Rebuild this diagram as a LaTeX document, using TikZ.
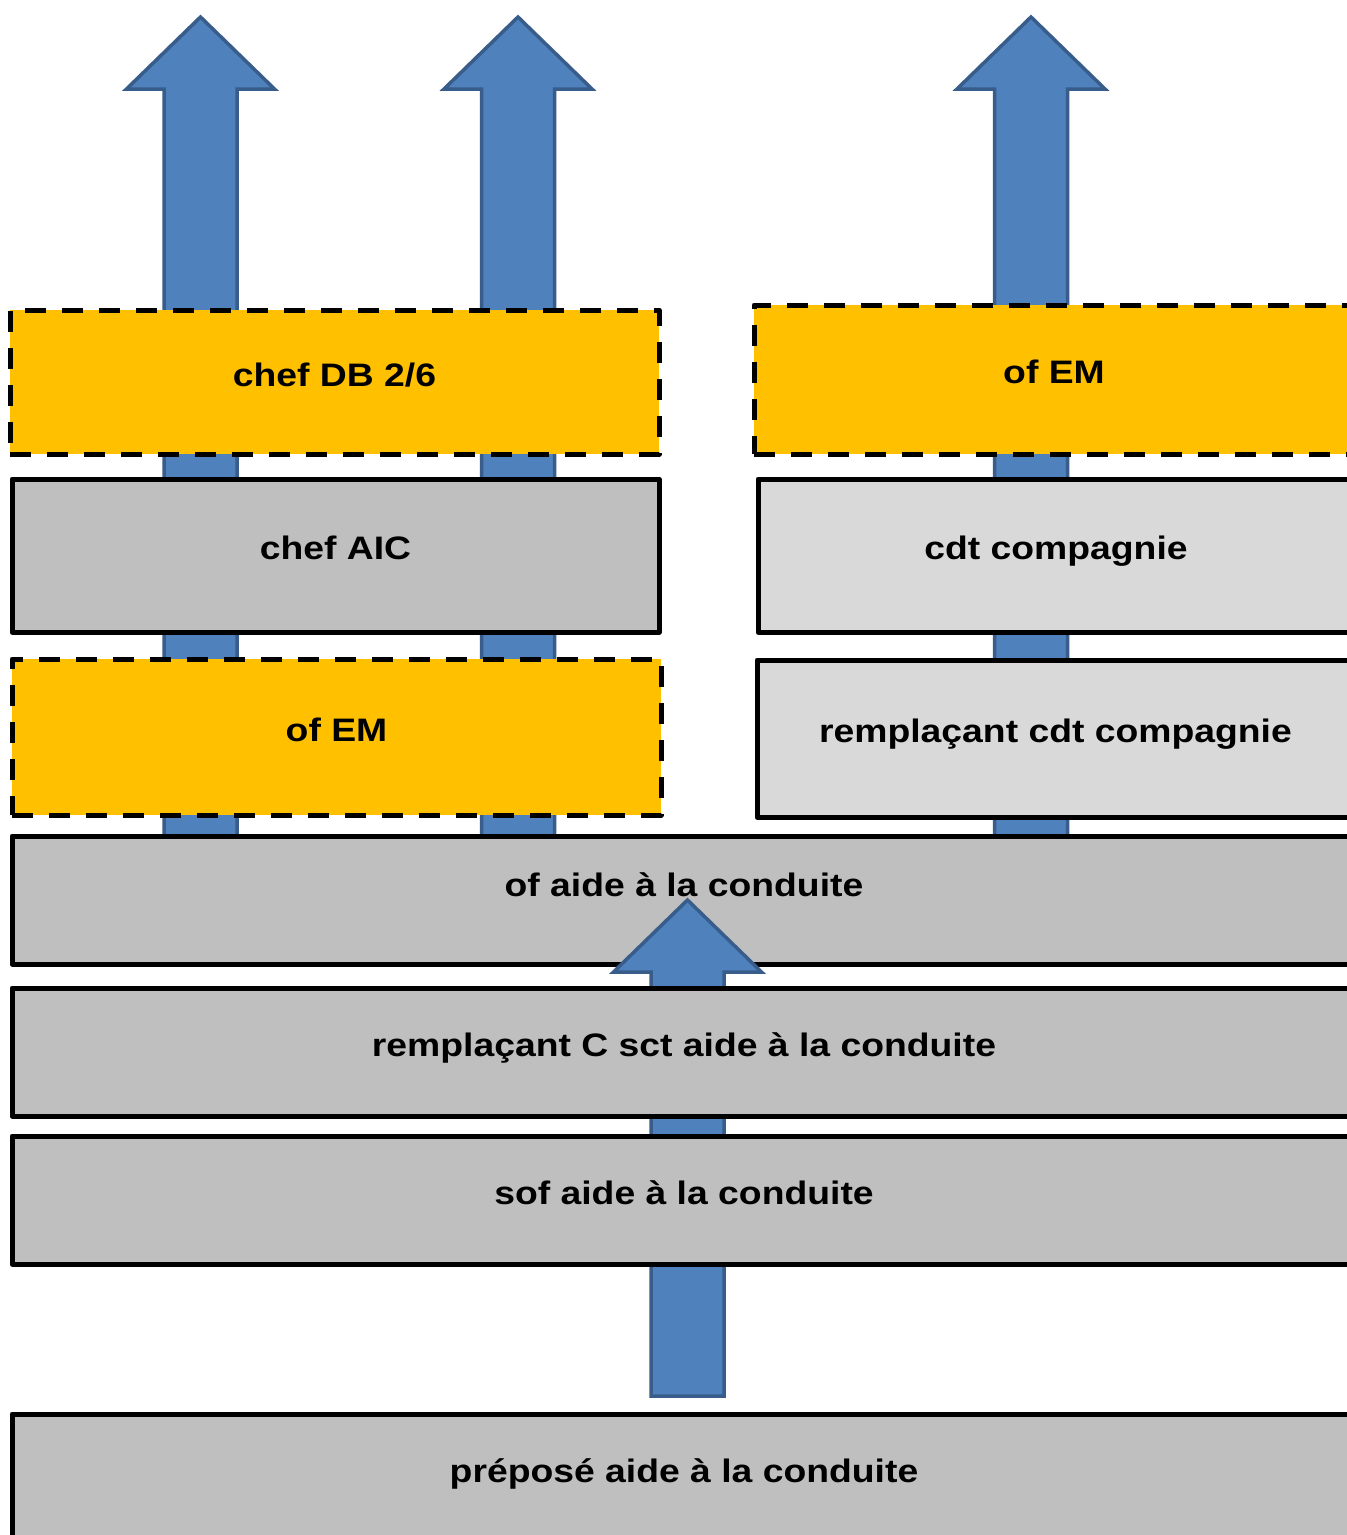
\documentclass[tikz,border=0pt]{standalone}
\usepackage{fontspec}
\usepackage{xcolor}
\usetikzlibrary{calc}
\newfontfamily\boxfont[FakeStretch=1.148]{Liberation Sans}

\definecolor{orangebox}{HTML}{FFC000}
\definecolor{graybox}{HTML}{BFBFBF}
\definecolor{lightbox}{HTML}{D9D9D9}
\definecolor{arrowfill}{HTML}{4F81BD}
\definecolor{arrowline}{HTML}{385D8A}

\tikzset{
  box/.style={rectangle, draw=black, line width=5pt, line join=round, inner sep=0pt,
    font=\boxfont\fontsize{32.5}{39}\selectfont\bfseries, text height=22pt, text depth=14pt},
  graybox/.style={box, fill=graybox},
  lightgraybox/.style={box, fill=lightbox},
  dashbox/.style={box, fill=orangebox, dash pattern=on 21pt off 16pt},
  blockarrow/.style={fill=arrowfill, draw=arrowline, line width=3.5pt, line join=miter},
}

% block arrow pointing up: #1 = foot, #2 = tip
\newcommand{\upblock}[2]{%
  \draw[blockarrow] let \p1 = (#1), \p2 = (#2) in
    (\x2-36.5,\y1) -- (\x2-36.5,\y2-72) -- (\x2-74,\y2-72) -- (\x2,\y2)
    -- (\x2+74,\y2-72) -- (\x2+36.5,\y2-72) -- (\x2+36.5,\y1) -- cycle;
}

\begin{document}
\begin{tikzpicture}[x=1pt, y=-1pt]
  \path[use as bounding box, fill=white] (0,0) rectangle (1347,1535);
  \clip (0,0) rectangle (1347,1535);

  % Arrows behind the boxes
  \coordinate (foot1) at (200.5,850);
  \coordinate (tip1) at (200.5,17);
  \coordinate (foot2) at (518,850);
  \coordinate (tip2) at (518,17);
  \coordinate (foot3) at (1031,850);
  \coordinate (tip3) at (1031,17);
  \upblock{foot1}{tip1}
  \upblock{foot2}{tip2}
  \upblock{foot3}{tip3}

  % Nodes
  \node[dashbox, minimum width=649, minimum height=144] (db) at (334.5,382) {chef DB 2/6};
  \node[dashbox, minimum width=600, minimum height=149] (emright) at (1054,379.5) {of EM};
  \node[graybox, minimum width=647, minimum height=153] (aic) at (335.5,555.5) {chef AIC};
  \node[lightgraybox, minimum width=596, minimum height=153] (cdt) at (1056,555.5) {cdt compagnie};
  \node[dashbox, minimum width=649, minimum height=156] (emleft) at (336.5,737) {of EM};
  \node[lightgraybox, minimum width=597, minimum height=157] (rcdt) at (1055.5,738.5) {remplaçant cdt compagnie};
  \node[graybox, minimum width=1344, minimum height=128, text depth=28.5pt] (aide) at (684,900) {of aide à la conduite};

  % Arrow up to the officer
  \coordinate (foot4) at (687.5,1396);
  \upblock{foot4}{foot4 |- aide.center}

  \node[graybox, minimum width=1344, minimum height=128] (rsct) at (684,1052) {remplaçant C sct aide à la conduite};
  \node[graybox, minimum width=1344, minimum height=128] (sof) at (684,1200) {sof aide à la conduite};
  \node[graybox, minimum width=1344, minimum height=128] (prepose) at (684,1478) {préposé aide à la conduite};
\end{tikzpicture}
\end{document}
